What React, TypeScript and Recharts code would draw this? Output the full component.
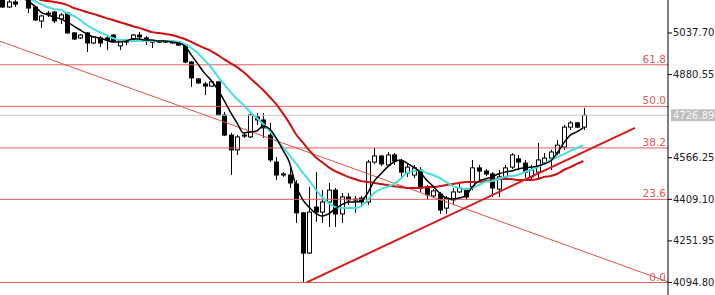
import React from 'react';
import { ComposedChart, Bar, Line, XAxis, YAxis, ReferenceLine } from 'recharts';

const opens = [
  5162, 5136, 5155, 5193, 5162, 5136, 5083, 5113, 5117, 5091,
  5113, 5038, 5019, 5038, 5000, 5019, 5019, 5030, 4989, 5007,
  5015, 5030, 5019, 5007, 5007, 5007, 5004, 5004, 4992, 4928,
  4864, 4845, 4837, 4853, 4728, 4652, 4596, 4648, 4645, 4720,
  4709, 4652, 4550, 4501, 4501, 4467, 4358, 4206, 4380, 4361,
  4399, 4444, 4354, 4418, 4407, 4414, 4399, 4550, 4573, 4539,
  4577, 4554, 4509, 4501, 4520, 4452, 4422, 4429, 4376, 4407,
  4437, 4444, 4456, 4528, 4516, 4505, 4448, 4494, 4531, 4562,
  4546, 4494, 4512, 4546, 4565, 4584, 4607, 4682, 4698, 4682,
];
const highs = [
  5170, 5166, 5162, 5200, 5174, 5140, 5106, 5121, 5121, 5113,
  5117, 5041, 5034, 5041, 5026, 5026, 5030, 5034, 5015, 5015,
  5034, 5041, 5026, 5011, 5011, 5011, 5007, 5007, 4996, 4932,
  4868, 4853, 4856, 4856, 4739, 4660, 4652, 4660, 4735, 4735,
  4735, 4698, 4569, 4512, 4528, 4482, 4361, 4456, 4512, 4444,
  4471, 4452, 4433, 4433, 4422, 4422, 4558, 4603, 4577, 4588,
  4584, 4562, 4546, 4539, 4531, 4463, 4448, 4437, 4422, 4452,
  4475, 4452, 4558, 4539, 4524, 4512, 4520, 4539, 4584, 4577,
  4558, 4539, 4622, 4584, 4596, 4633, 4690, 4705, 4701, 4754,
];
const lows = [
  5132, 5132, 5136, 5170, 5113, 5083, 5057, 5098, 5075, 5072,
  5034, 5011, 5015, 4966, 4996, 4985, 4973, 5004, 4973, 4992,
  5011, 5011, 4992, 4981, 5000, 5000, 4996, 4989, 4924, 4834,
  4845, 4803, 4834, 4724, 4648, 4501, 4577, 4641, 4641, 4690,
  4641, 4550, 4482, 4494, 4452, 4320, 4095, 4203, 4324, 4320,
  4305, 4305, 4320, 4388, 4358, 4388, 4388, 4543, 4535, 4535,
  4539, 4490, 4494, 4490, 4437, 4410, 4414, 4354, 4354, 4388,
  4433, 4407, 4444, 4482, 4497, 4418, 4418, 4482, 4524, 4520,
  4490, 4482, 4482, 4539, 4520, 4577, 4596, 4671, 4679, 4671,
];
const closes = [
  5136, 5155, 5147, 5178, 5132, 5087, 5102, 5110, 5083, 5106,
  5038, 5015, 5030, 5000, 5023, 5000, 5011, 5007, 5011, 5004,
  5030, 5023, 5015, 5004, 5004, 5004, 5000, 4992, 4928, 4868,
  4849, 4837, 4853, 4728, 4652, 4596, 4645, 4652, 4728, 4709,
  4679, 4558, 4501, 4505, 4471, 4358, 4206, 4361, 4361, 4399,
  4444, 4354, 4418, 4407, 4410, 4399, 4550, 4573, 4543, 4577,
  4554, 4512, 4531, 4528, 4452, 4426, 4441, 4369, 4414, 4437,
  4452, 4418, 4528, 4516, 4505, 4452, 4494, 4528, 4577, 4550,
  4512, 4520, 4558, 4565, 4588, 4614, 4682, 4698, 4682, 4727,
];
const maFast = [
  5200, 5189, 5178, 5170, 5159, 5140, 5117, 5106, 5098, 5091,
  5079, 5064, 5049, 5034, 5023, 5019, 5011, 5004, 5004, 5007,
  5015, 5015, 5011, 5011, 5007, 5007, 5004, 5000, 4989, 4955,
  4921, 4887, 4860, 4826, 4784, 4739, 4698, 4660, 4664, 4667,
  4686, 4675, 4641, 4596, 4550, 4463, 4410, 4380, 4357, 4346,
  4354, 4373, 4388, 4399, 4399, 4403, 4433, 4478, 4505, 4531,
  4550, 4558, 4546, 4531, 4512, 4482, 4459, 4433, 4414, 4410,
  4414, 4422, 4456, 4478, 4486, 4494, 4505, 4512, 4516, 4524,
  4528, 4531, 4535, 4543, 4554, 4584, 4622, 4652, 4664, 4679,
];
const maMid = [
  5219, 5208, 5196, 5185, 5170, 5159, 5147, 5136, 5128, 5125,
  5113, 5102, 5087, 5068, 5053, 5041, 5030, 5019, 5011, 5011,
  5007, 5007, 5007, 5007, 5007, 5007, 5007, 5004, 4996, 4981,
  4962, 4936, 4909, 4875, 4845, 4815, 4788, 4766, 4739, 4717,
  4694, 4667, 4637, 4607, 4577, 4546, 4512, 4482, 4448, 4418,
  4395, 4380, 4376, 4376, 4376, 4384, 4407, 4433, 4448, 4456,
  4467, 4486, 4509, 4516, 4520, 4509, 4501, 4490, 4475, 4459,
  4452, 4448, 4452, 4463, 4475, 4478, 4486, 4494, 4497, 4501,
  4512, 4520, 4531, 4543, 4558, 4569, 4580, 4592, 4603, 4614,
];
const maSlow = [
  5276, 5257, 5238, 5219, 5196, 5178, 5162, 5159, 5155, 5151,
  5144, 5132, 5125, 5117, 5110, 5102, 5094, 5087, 5079, 5072,
  5064, 5057, 5049, 5041, 5038, 5034, 5030, 5023, 5015, 5004,
  4992, 4981, 4970, 4955, 4939, 4924, 4909, 4890, 4868, 4845,
  4822, 4796, 4769, 4735, 4698, 4656, 4626, 4596, 4569, 4550,
  4531, 4516, 4505, 4494, 4486, 4478, 4475, 4471, 4467, 4463,
  4459, 4456, 4452, 4452, 4452, 4456, 4456, 4459, 4463, 4467,
  4471, 4475, 4475, 4475, 4478, 4482, 4486, 4486, 4486, 4482,
  4482, 4482, 4486, 4494, 4497, 4505, 4520, 4531, 4543, 4554,
];

const fibLabels = ['0.0', '23.6', '38.2', '50.0', '61.8'];
const fibValues = [4094.8, 4409.0, 4603.4, 4760.5, 4917.6];
const priceTicks = [4094.8, 4251.95, 4409.1, 4566.25, 4726.89, 4880.55, 5037.7];
const lastPrice = 4726.89;
const thinTrend = [{ x: -0.27, y: 5011 }, { x: 101.5, y: 4097 }];
const thickTrend = [{ x: 46.7, y: 4095 }, { x: 96.45, y: 4679 }];
const slotCount = 102;

const data = Array.from({ length: slotCount }, (_, i) =>
  i < opens.length
    ? { idx: i, open: opens[i], high: highs[i], low: lows[i], close: closes[i], ma5: maFast[i], ma10: maMid[i], ma20: maSlow[i] }
    : { idx: i }
);

const Candle = (props: any) => {
  const { x, y, width, height, payload } = props;
  if (!payload || payload.open == null || !isFinite(y) || !isFinite(height)) return null;
  const { open, close, high, low } = payload;
  const top = Math.min(y, y + height);
  const bottom = Math.max(y, y + height);
  const span = high - low;
  const toPx = (v: number) => (span === 0 ? top : top + ((high - v) / span) * (bottom - top));
  const cx = Math.round(x + width / 2) + 0.5;
  const oy = toPx(open);
  const cy = toPx(close);
  const bTop = Math.min(oy, cy);
  const bBot = Math.max(oy, cy);
  const bull = close >= open;
  return (
    <g>
      <line x1={cx} x2={cx} y1={top} y2={bottom} stroke="#000" strokeWidth={1} />
      <rect x={cx - 2} y={bTop} width={4} height={Math.max(bBot - bTop, 1)} fill={bull ? '#fff' : '#000'} stroke="#000" strokeWidth={1} />
    </g>
  );
};

const FibLabel = (props: any) => {
  const { viewBox, text } = props;
  if (!viewBox) return null;
  return (
    <text x={viewBox.x + viewBox.width - 2} y={viewBox.y - 2} textAnchor="end" fill="#dc5a5a" fontSize={10.5} fontFamily="DejaVu Sans">
      {text}
    </text>
  );
};

const PriceTick = (props: any) => {
  const { x, y, payload } = props;
  const v = payload.value as number;
  const axisX = x - 5;
  if (Math.abs(v - lastPrice) < 0.01) {
    return (
      <g>
        <rect x={axisX + 3} y={y - 6} width={50} height={12} fill="#c0c0c0" />
        <text x={axisX + 5} y={y} dy={3.5} fill="#f4f4f4" fontSize={10} fontFamily="DejaVu Sans">
          {v.toFixed(2)}
        </text>
      </g>
    );
  }
  return (
    <g>
      <line x1={axisX} x2={axisX + 4} y1={y} y2={y} stroke="#000" />
      <text x={x} y={y} dy={3.5} fill="#222" fontSize={10} fontFamily="DejaVu Sans" textAnchor="start">
        {v.toFixed(2)}
      </text>
    </g>
  );
};

export default function App() {
  return (
    <div style={{ position: 'absolute', left: 0, top: 0, width: 715, height: 295, background: '#fff' }}>
      <ComposedChart width={715} height={295} data={data} margin={{ top: 0, right: 0, bottom: 0, left: -1.5 }}>
        <XAxis dataKey="idx" hide padding={{ left: 0, right: 3 }} />
        <XAxis xAxisId="num" type="number" hide domain={[-0.5, 101.5]} allowDataOverflow padding={{ left: 0, right: 3 }} />
        <YAxis
          orientation="right"
          width={47}
          domain={[4047.6, 5162.4]}
          allowDataOverflow
          ticks={priceTicks}
          interval={0}
          tickSize={4}
          tickMargin={1}
          tickLine={false}
          axisLine={{ stroke: '#000' }}
          tick={<PriceTick />}
        />
        {fibValues.map((v, i) => (
          <ReferenceLine key={fibLabels[i]} y={v} stroke="#e06060" strokeWidth={1} ifOverflow="visible" label={<FibLabel text={fibLabels[i]} />} />
        ))}
        <ReferenceLine y={lastPrice} stroke="#c8c8c8" strokeWidth={1} ifOverflow="visible" />
        <ReferenceLine xAxisId="num" segment={thinTrend} stroke="#e05050" strokeWidth={1} ifOverflow="visible" />
        <Bar dataKey={(d: any) => (d.low != null ? [d.low, d.high] : null)} barSize={5} shape={(p: any) => <Candle {...p} />} isAnimationActive={false} />
        <Line dataKey="ma20" stroke="#cc1111" strokeWidth={2} dot={false} type="monotone" isAnimationActive={false} />
        <Line dataKey="ma10" stroke="#44dede" strokeWidth={2} dot={false} type="monotone" isAnimationActive={false} />
        <Line dataKey="ma5" stroke="#000" strokeWidth={1.5} dot={false} type="monotone" isAnimationActive={false} />
        <ReferenceLine xAxisId="num" segment={thickTrend} stroke="#d21a1a" strokeWidth={2} ifOverflow="visible" />
      </ComposedChart>
    </div>
  );
}
